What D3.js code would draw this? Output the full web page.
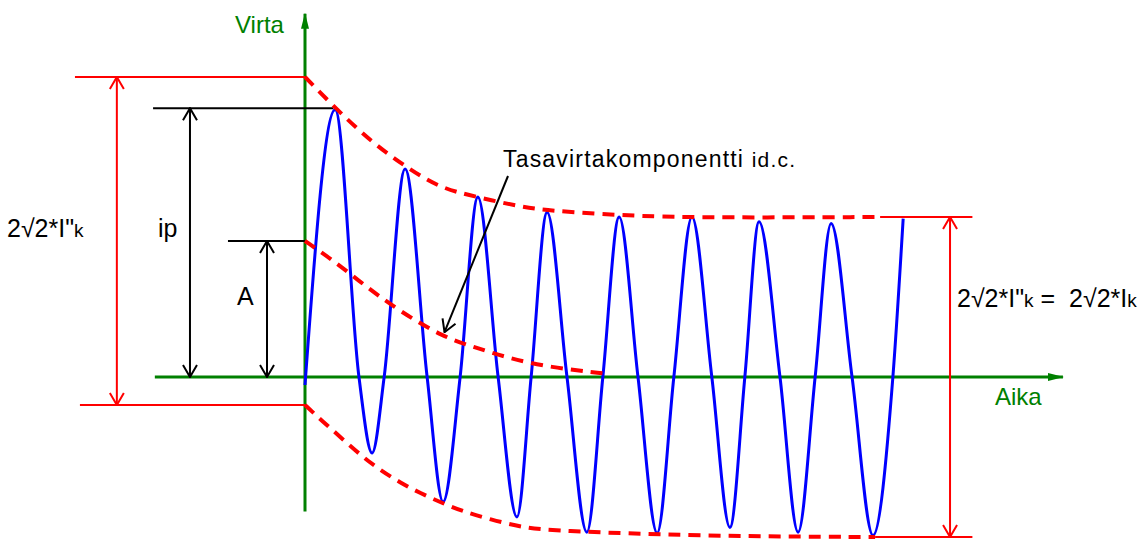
<!DOCTYPE html>
<html>
<head>
<meta charset="utf-8">
<script src="https://cdn.jsdelivr.net/npm/d3@7"></script>
<style>
  html, body { margin: 0; padding: 0; background: #fff; }
  text { font-family: "Liberation Sans", Arial, sans-serif; white-space: pre; }
</style>
</head>
<body>
<svg id="chart" width="1146" height="539"></svg>
<script>
// time in ms (50 Hz), current in kA

// short-circuit current: start, extrema and zero crossings
const waveTime = [0, 8.5, 15.2, 18.9, 22.3, 28.2, 34.4, 38.9, 43.7, 48.7, 54.4, 59.7, 63.7, 68.2,
    73.8, 79.4, 83.9, 88.5, 93.8, 99.2, 103.9, 109.0, 114.6, 119.7, 123.9, 127.9, 133.8, 138.9,
    143.7, 148.2, 154.1, 160.0, 165.6, 168.5];
const waveCurrent = [-0.5, 16.7, 0, -4.75, 0, 13.0, 0, -7.8, 0, 11.25, 0, -8.75, 0, 10.3,
    0, -9.7, 0, 10.0, 0, -9.75, 0, 10.0, 0, -9.4, 0, 9.7, 0, -9.7,
    0, 9.6, 0, -9.9, 0, 9.9];

// upper envelope
const upperTime = [0, 9.0, 19.2, 28.7, 38.0, 48.5, 61.4, 69.0, 88.7, 111.3, 162.0];
const upperCurrent = [18.75, 16.7, 14.6, 13.1, 11.8, 11.25, 10.6, 10.4, 10.1, 9.95, 10.0];

// lower envelope
const lowerTime = [0, 5.1, 10.7, 16.3, 21.1, 26.8, 32.4, 38.9, 44.5, 52.1, 61.4, 69.0, 111.3, 160.6];
const lowerCurrent = [-1.75, -2.8, -3.9, -5.0, -5.8, -6.6, -7.25, -7.9, -8.4, -8.9, -9.4, -9.6, -9.95, -10.0];

// DC component
const dcTime = [0, 7.9, 17.5, 26.8, 38.9, 47.3, 56.9, 69.0, 85.0];
const dcCurrent = [8.5, 7.3, 5.6, 4.1, 2.5, 1.9, 1.2, 0.6, 0.2];

// marker values
const peakInitial = 18.75;     // 2√2*I"k top
const troughInitial = -1.75;   // 2√2*I"k bottom
const ipValue = 16.8;
const aValue = 8.5;
const steadyTop = 10.0;
const steadyBottom = -10.0;

const svg = d3.select("#chart");
const x = d3.scaleLinear().domain([0, 160]).range([305, 873]);
const y = d3.scaleLinear().domain([-10, 10]).range([537, 217]);

const GREEN = "#008000", RED = "#ff0000", BLUE = "#0000ff";

// markers
const defs = svg.append("defs");
function chevron(id, color) {
    defs.append("marker")
        .attr("id", id)
        .attr("viewBox", "-1 -8 14 16")
        .attr("markerUnits", "userSpaceOnUse")
        .attr("markerWidth", 14).attr("markerHeight", 16)
        .attr("refX", 12).attr("refY", 0)
        .attr("orient", "auto-start-reverse")
        .append("path")
        .attr("d", "M0,-7L12,0L0,7")
        .attr("fill", "none")
        .attr("stroke", color)
        .attr("stroke-width", 2);
}
chevron("arrBlack", "#000");
chevron("arrRed", RED);
defs.append("marker")
    .attr("id", "arrGreen")
    .attr("viewBox", "0 -5 16 10")
    .attr("markerUnits", "userSpaceOnUse")
    .attr("markerWidth", 16).attr("markerHeight", 10)
    .attr("refX", 15).attr("refY", 0)
    .attr("orient", "auto")
    .append("path")
    .attr("d", "M0,-4L16,0L0,4Z")
    .attr("fill", GREEN);

// axes
svg.append("line")
    .attr("x1", x(-42.3)).attr("y1", y(0))
    .attr("x2", x(213.5)).attr("y2", y(0))
    .attr("stroke", GREEN).attr("stroke-width", 3)
    .attr("marker-end", "url(#arrGreen)");
svg.append("line")
    .attr("x1", x(0)).attr("y1", y(-8.4))
    .attr("x2", x(0)).attr("y2", y(22.7))
    .attr("stroke", GREEN).attr("stroke-width", 3)
    .attr("marker-end", "url(#arrGreen)");

svg.append("text").attr("x", 235).attr("y", 33)
    .attr("font-size", 24).attr("fill", GREEN).text("Virta");
svg.append("text").attr("x", 995).attr("y", 405)
    .attr("font-size", 24).attr("fill", GREEN).text("Aika");

// red markers left
function hline(t1, t2, v, color) {
    svg.append("line")
        .attr("x1", x(t1)).attr("x2", x(t2))
        .attr("y1", y(v)).attr("y2", y(v))
        .attr("stroke", color).attr("stroke-width", 2);
}
function varrow(t, v1, v2, color, marker) {
    svg.append("line")
        .attr("x1", x(t)).attr("x2", x(t))
        .attr("y1", y(v1)).attr("y2", y(v2))
        .attr("stroke", color).attr("stroke-width", 2)
        .attr("marker-start", `url(#${marker})`)
        .attr("marker-end", `url(#${marker})`);
}

hline(-64.8, 0, peakInitial, RED);
hline(-63.4, 0, troughInitial, RED);
varrow(-53, peakInitial, troughInitial, RED, "arrRed");

hline(162, 188, steadyTop, RED);
hline(160.6, 188, steadyBottom, RED);
varrow(181.7, steadyTop, steadyBottom, RED, "arrRed");

// black markers
hline(-42.8, 8.0, ipValue, "#000");
varrow(-32.4, ipValue, 0, "#000", "arrBlack");
hline(-21.7, 0, aValue, "#000");
varrow(-10.7, aValue, 0, "#000", "arrBlack");

// wave
const line = d3.line()
    .x(d => x(d[0]))
    .y(d => y(d[1]))
    .curve(d3.curveMonotoneX);

svg.append("path")
    .datum(d3.zip(waveTime, waveCurrent))
    .attr("d", line)
    .attr("fill", "none")
    .attr("stroke", BLUE)
    .attr("stroke-width", 3);

// envelopes
[[upperTime, upperCurrent], [lowerTime, lowerCurrent], [dcTime, dcCurrent]].forEach(([t, v]) => {
    svg.append("path")
        .datum(d3.zip(t, v))
        .attr("d", line.curve(d3.curveBasis))
        .attr("fill", "none")
        .attr("stroke", RED)
        .attr("stroke-width", 4)
        .attr("stroke-dasharray", "12 8");
});

// labels
function kLabel(px, py, parts) {
    const t = svg.append("text").attr("x", px).attr("y", py).attr("font-size", 25);
    parts.forEach(([s, small]) => {
        t.append("tspan").attr("font-size", small ? 19 : 25).text(s);
    });
}
kLabel(7, 237, [["2√2*I\"", false], ["k", true]]);
kLabel(957, 307, [["2√2*I\"", false], ["k", true], [" =  2√2*I", false], ["k", true]]);

svg.append("text").attr("x", 158).attr("y", 237).attr("font-size", 25).text("ip");
svg.append("text").attr("x", 237).attr("y", 305).attr("font-size", 25).text("A");

const note = svg.append("text").attr("x", 503).attr("y", 167).attr("font-size", 23)
    .attr("textLength", 292).attr("lengthAdjust", "spacing");
note.append("tspan").text("Tasavirtakomponentti ");
note.append("tspan").attr("font-size", 21).text("id.c.");

// annotation arrow to DC component
svg.append("line")
    .attr("x1", 508).attr("y1", 176)
    .attr("x2", x(39.3)).attr("y2", y(2.8))
    .attr("stroke", "#000").attr("stroke-width", 2)
    .attr("marker-end", "url(#arrBlack)");
</script>
</body>
</html>
